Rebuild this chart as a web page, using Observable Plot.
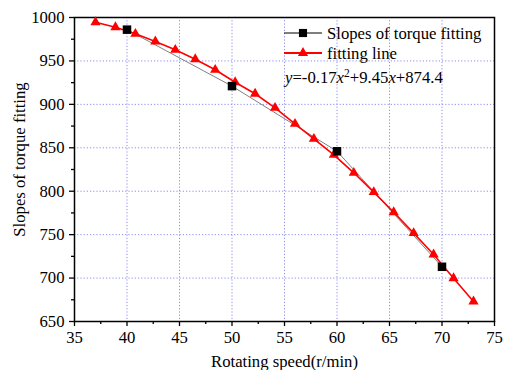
<!DOCTYPE html>
<html>
<head>
<meta charset="utf-8">
<script src="https://cdn.jsdelivr.net/npm/d3@7"></script>
<script src="https://cdn.jsdelivr.net/npm/@observablehq/plot@0.6"></script>
<style>
  html, body { margin: 0; padding: 0; background: white; }
  #chart { width: 514px; height: 370px; }
  #chart svg text { font-family: "Liberation Serif", "Times New Roman", Times, serif !important; font-variant: normal !important; }
</style>
</head>
<body>
<div id="chart"></div>
<script>
// Measured data: slopes of torque fitting
const speeds = [40, 50, 60, 70];
const slopes = [986, 921, 846, 713];

// Fitting line points
const fitX = [37, 38.9, 40.8, 42.7, 44.6, 46.5, 48.4, 50.3, 52.2, 54.1, 56.0, 57.8, 59.7, 61.6, 63.5, 65.4, 67.3, 69.2, 71.1, 73];
const fitY = [994.6, 988.8, 981.2, 972.4, 962.8, 952.0, 939.8, 925.5, 912.2, 896.0, 877.6, 860.3, 841.9, 821.2, 798.9, 775.8, 751.7, 727.1, 699.8, 673.0];

// Axis ticks
const xTicks = [35, 40, 45, 50, 55, 60, 65, 70, 75];
const xMinor = [37.5, 42.5, 47.5, 52.5, 57.5, 62.5, 67.5, 72.5];
const xGrid = [40, 45, 50, 55, 60, 65, 70];
const yTicks = [650, 700, 750, 800, 850, 900, 950, 1000];
const yMinor = [675, 725, 775, 825, 875, 925, 975];
const yGrid = [700, 750, 800, 850, 900, 950];

const labels = {
  x: "Rotating speed(r/min)",
  y: "Slopes of torque fitting",
  s1: "Slopes of torque fitting",
  s2: "fitting line"
};

const FONT = "'Liberation Serif', 'Times New Roman', Times, serif";
const FS = 16.7;

const measured = speeds.map((s, i) => ({x: s, y: slopes[i]}));
const fit = fitX.map((s, i) => ({x: s, y: fitY[i]}));

const gridStyle = {stroke: "#8c8cf0", strokeOpacity: 1, strokeWidth: 1, strokeDasharray: "1.2,2"};
const tickText = {fontFamily: FONT, fontSize: FS, fill: "black"};

const chart = Plot.plot({
  width: 514,
  height: 370,
  marginLeft: 74,
  marginRight: 20,
  marginTop: 17,
  marginBottom: 49,
  style: {fontFamily: FONT, fontSize: FS + "px", background: "white", color: "black"},
  x: {domain: [35, 75]},
  y: {domain: [650, 1000]},
  marks: [
    Plot.gridX(xGrid, gridStyle),
    Plot.gridY(yGrid, gridStyle),
    Plot.axisX(xTicks, {tickSize: 5, tickPadding: 5, label: null, strokeWidth: 1.3, tickFormat: d3.format("d"), ...tickText}),
    Plot.axisX(xMinor, {tickSize: 3, tickFormat: () => "", label: null, strokeWidth: 1.3}),
    Plot.axisY(yTicks, {tickSize: 5, tickPadding: 5, label: null, strokeWidth: 1.3, tickFormat: d3.format("d"), ...tickText}),
    Plot.axisY(yMinor, {tickSize: 3, tickFormat: () => "", label: null, strokeWidth: 1.3}),
    Plot.frame({stroke: "black", strokeWidth: 1.5}),
    Plot.text([labels.x], {frameAnchor: "bottom", lineAnchor: "middle", textAnchor: "middle", dy: 40, fontSize: FS, fontFamily: FONT, fill: "black"}),
    Plot.text([labels.y], {frameAnchor: "left", lineAnchor: "middle", textAnchor: "middle", dx: -55, dy: -10, rotate: -90, fontSize: FS, fontFamily: FONT, fill: "black"}),
    Plot.line(measured, {x: "x", y: "y", stroke: "#808080", strokeWidth: 1}),
    Plot.line(fit, {x: "x", y: "y", stroke: "#ff0000", strokeWidth: 1.6}),
    Plot.dot(fit, {x: "x", y: "y", symbol: "triangle", r: 3.8, fill: "#ff0000", stroke: "none"}),
    Plot.dot(measured, {x: "x", y: "y", symbol: "square", r: 4.8, fill: "black", stroke: "none"})
  ]
});

document.getElementById("chart").appendChild(chart);

// Legend and equation
const svg = d3.select(chart);
const lg = svg.append("g")
  .attr("font-family", FONT)
  .attr("font-size", FS)
  .attr("text-anchor", "start")
  .attr("fill", "black");

const rows = [
  {label: labels.s1, y: 33, stroke: "black", sw: 1, symbol: d3.symbolSquare, size: 66, fill: "black"},
  {label: labels.s2, y: 53, stroke: "#ff0000", sw: 2, symbol: d3.symbolTriangle, size: 45, fill: "#ff0000"}
];
rows.forEach(r => {
  lg.append("line").attr("x1", 284).attr("x2", 322).attr("y1", r.y).attr("y2", r.y)
    .attr("stroke", r.stroke).attr("stroke-width", r.sw);
  lg.append("path").attr("d", d3.symbol(r.symbol, r.size)())
    .attr("transform", `translate(303,${r.y})`).attr("fill", r.fill);
  lg.append("text").attr("x", 327).attr("y", r.y + 5.5).attr("text-anchor", "start").text(r.label);
});

const eq = lg.append("text").attr("x", 285).attr("y", 83).attr("text-anchor", "start");
eq.append("tspan").attr("font-style", "italic").text("y");
eq.append("tspan").text("=-0.17");
eq.append("tspan").attr("font-style", "italic").text("x");
eq.append("tspan").attr("font-size", 11.5).attr("dy", -6).text("2");
eq.append("tspan").attr("dy", 6).text("+9.45");
eq.append("tspan").attr("font-style", "italic").text("x");
eq.append("tspan").text("+874.4");
</script>
</body>
</html>
